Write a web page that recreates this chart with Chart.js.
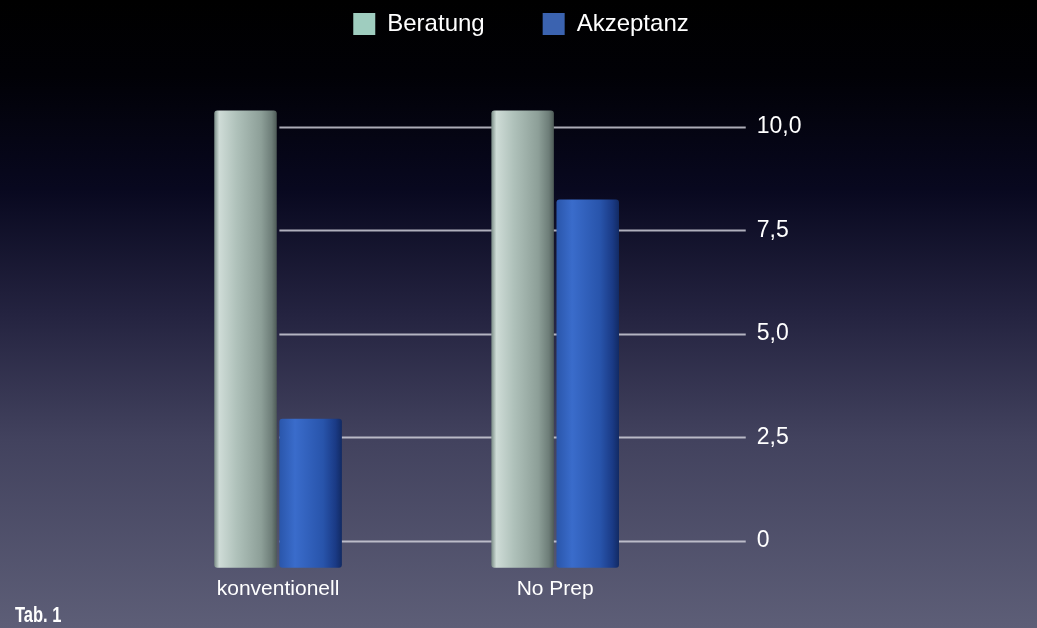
<!DOCTYPE html>
<html>
<head>
<meta charset="utf-8">
<script src="https://cdn.jsdelivr.net/npm/chart.js@4/dist/chart.umd.min.js"></script>
<style>
  html, body { margin: 0; padding: 0; }
  body { width: 1037px; height: 628px; overflow: hidden; }
  #wrap {
    position: relative; width: 1037px; height: 628px;
    background: linear-gradient(to bottom, #000000 0%, #010106 12%, #08081f 30%, #242340 50%, #42425e 70%, #5d5e77 100%);
  }
  canvas { display: block; }
  #tab {
    position: absolute; left: 15px; top: 604px;
    font: bold 22px/22px "Liberation Sans", Arial, sans-serif;
    color: #fff;
    transform: scaleX(0.75);
    transform-origin: left top;
  }
</style>
</head>
<body>
<div id="wrap">
  <canvas id="chart" width="1037" height="628"></canvas>
  <div id="tab">Tab. 1</div>
</div>
<script>
// =============================
// DATOS
// =============================
const categorias = ["konventionell", "No Prep"];
const beratung = [10.4, 10.4];
const akzeptanz = [2.95, 8.25];
const ticksY = [0, 2.5, 5, 7.5, 10];

const FONT = "'Liberation Sans', Arial, sans-serif";

// gradiente horizontal por barra (aprox. efecto metalico)
function gradBarra(ctx, stops) {
  const chart = ctx.chart;
  const x = chart.scales.x;
  if (!x || !chart.chartArea) return stops[2][1];
  const catW = x.width / categorias.length;
  const grupo = catW * 0.47;
  const ancho = grupo / 2 * 0.96;
  const cx = x.getPixelForValue(ctx.dataIndex) + (ctx.datasetIndex - 0.5) * grupo / 2;
  const g = chart.ctx.createLinearGradient(cx - ancho / 2, 0, cx + ancho / 2, 0);
  stops.forEach(([p, c]) => g.addColorStop(p, c));
  return g;
}

const stopsBeratung = [[0, "#7a8c86"], [0.08, "#cfdcd7"], [0.35, "#b0c2bb"], [0.75, "#8d9f98"], [0.92, "#6d7d78"], [1, "#4e5b57"]];
const stopsAkzeptanz = [[0, "#2a56ab"], [0.25, "#3a6ccb"], [0.7, "#2854ab"], [0.9, "#1a3a85"], [1, "#122a63"]];

// lineas de grilla propias (empiezan detras del primer grupo)
const grillaPlugin = {
  id: "grilla",
  afterLayout(chart) {
    // leyenda un poco corrida a la derecha, como en el original
    chart.legend.left += 19;
    chart.legend.right += 19;
  },
  beforeDatasetsDraw(chart) {
    const y = chart.scales.y;
    const bar = chart.getDatasetMeta(1).data[0];
    const x0 = bar.x - bar.width / 2;
    const x1 = chart.chartArea.right + 52;
    const c = chart.ctx;
    c.save();
    c.strokeStyle = "rgba(215,215,225,0.8)";
    c.lineWidth = 2;
    ticksY.forEach(v => {
      const py = Math.round(y.getPixelForValue(v)) + 0.5;
      c.beginPath();
      c.moveTo(x0, py);
      c.lineTo(x1, py);
      c.stroke();
    });
    c.restore();
  }
};

new Chart(document.getElementById("chart"), {
  type: "bar",
  data: {
    labels: categorias,
    datasets: [
      {
        label: "Beratung",
        data: beratung,
        backgroundColor: ctx => gradBarra(ctx, stopsBeratung),
        base: -0.65,
        clip: false,
        categoryPercentage: 0.47,
        barPercentage: 0.96,
        borderRadius: 3,
        borderSkipped: false
      },
      {
        label: "Akzeptanz",
        data: akzeptanz,
        backgroundColor: ctx => gradBarra(ctx, stopsAkzeptanz),
        base: -0.65,
        clip: false,
        categoryPercentage: 0.47,
        barPercentage: 0.96,
        borderRadius: 3,
        borderSkipped: false
      }
    ]
  },
  options: {
    responsive: false,
    animation: false,
    layout: {
      padding: { top: -46, left: 139.5, right: 172.5, bottom: -2 }
    },
    plugins: {
      legend: {
        position: "top",
        labels: {
          color: "#ffffff",
          font: { family: FONT, size: 24 },
          boxWidth: 22,
          boxHeight: 22,
          padding: 58,
          generateLabels: chart => [
            { text: "Beratung", fillStyle: "#9fcdbf", strokeStyle: "#9fcdbf", lineWidth: 0, datasetIndex: 0, fontColor: "#fff" },
            { text: "Akzeptanz", fillStyle: "#3b63b0", strokeStyle: "#3b63b0", lineWidth: 0, datasetIndex: 1, fontColor: "#fff" }
          ]
        }
      },
      // separador vacio entre leyenda y area del grafico
      title: {
        display: true,
        text: "",
        weight: 500,
        font: { size: 10 },
        padding: { top: 0, bottom: 69 }
      },
      tooltip: { enabled: false }
    },
    scales: {
      x: {
        grid: { display: false },
        border: { display: false },
        ticks: {
          color: "#ffffff",
          font: { family: FONT, size: 21 },
          padding: 28
        }
      },
      y: {
        position: "right",
        min: 0,
        max: 10,
        afterBuildTicks: axis => { axis.ticks = ticksY.map(v => ({ value: v })); },
        grid: { display: false, drawTicks: false },
        border: { display: false },
        ticks: {
          color: "#ffffff",
          font: { family: FONT, size: 23 },
          padding: 63,
          callback: v => v === 0 ? "0" : v.toFixed(1).replace(".", ",")
        }
      }
    }
  },
  plugins: [grillaPlugin]
});
</script>
</body>
</html>
